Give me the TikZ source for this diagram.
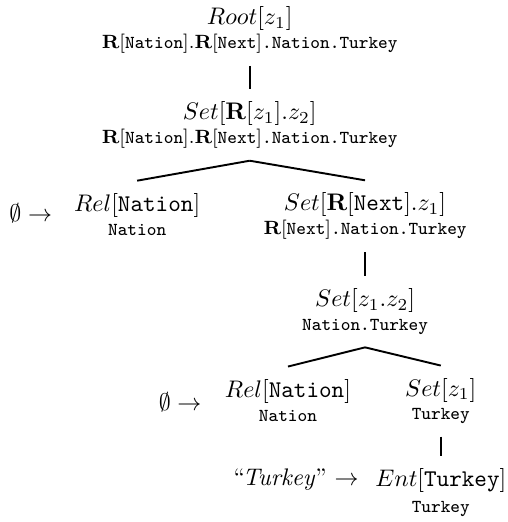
\documentclass[tikz,border=0pt]{standalone}
\usepackage{amsmath}

% denotation under each label
\newcommand{\den}[1]{{\fontsize{7.6}{9}\selectfont #1}}

\begin{document}
\begin{tikzpicture}[tnode/.style={align=center, inner xsep=0pt, inner ysep=5pt}]

    \useasboundingbox (0,0) rectangle (7.44,7.65);

    % Pohon derivasi
    \node[tnode] (root) at (3.66,7.21) {$Root[z_1]$\\[-2pt]
        \den{$\mathbf{R}[\texttt{Nation}].\mathbf{R}[\texttt{Next}]$\texttt{.Nation.Turkey}}};
    \node[tnode] (set1) at (3.66,5.82) {$Set[\mathbf{R}[z_1].z_2]$\\[-2pt]
        \den{$\mathbf{R}[\texttt{Nation}].\mathbf{R}[\texttt{Next}]$\texttt{.Nation.Turkey}}};
    \node[tnode] (rel1) at (2.01,4.511) {$Rel[\texttt{Nation}]$\\[-2pt] \den{\texttt{Nation}}};
    \node[tnode] (set2) at (5.35,4.482) {$Set[\mathbf{R}[\texttt{Next}].z_1]$\\[-2pt]
        \den{$\mathbf{R}[\texttt{Next}]$\texttt{.Nation.Turkey}}};
    \node[tnode] (set3) at (5.35,3.08) {$Set[z_1.z_2]$\\[-2pt] \den{\texttt{Nation.Turkey}}};
    \node[tnode] (rel2) at (4.22,1.787) {$Rel[\texttt{Nation}]$\\[-2pt] \den{\texttt{Nation}}};
    \node[tnode] (set4) at (6.46,1.772) {$Set[z_1]$\\[-2pt] \den{\texttt{Turkey}}};
    \node[tnode] (ent) at (6.46,0.43) {$Ent[\texttt{Turkey}]$\\[-1pt] \den{\texttt{Turkey}}};

    % Leksikon
    \node (lex1) at (0.45,4.526) {$\emptyset\rightarrow$};
    \node (lex2) at (2.64,1.758) {$\emptyset\rightarrow$};
    \node (lex3) at (4.34,0.625) {``\kern-1pt\textit{Turkey}'' $\rightarrow$};

    % Sisi
    \draw[thick] (root.south) -- (set1.north);
    \draw[thick] (set1.south) -- (rel1.north);
    \draw[thick] (set1.south) -- (set2.north);
    \draw[thick] (set2.south) -- (set3.north);
    \draw[thick] (set3.south) -- (rel2.north);
    \draw[thick] (set3.south) -- (set4.north);
    \draw[thick] (set4.south) -- (ent.north);

\end{tikzpicture}
\end{document}
